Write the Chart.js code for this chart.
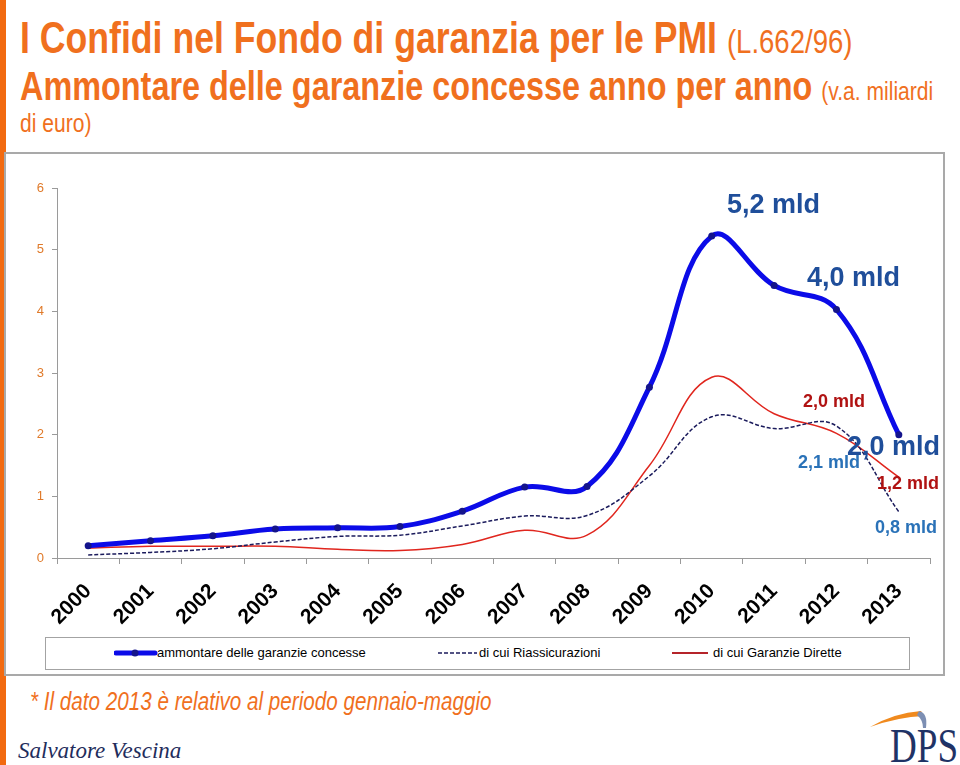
<!DOCTYPE html>
<html>
<head>
<meta charset="utf-8">
<script src="https://cdn.jsdelivr.net/npm/chart.js@4.4.1/dist/chart.umd.min.js"></script>
<style>
  body { margin: 0; width: 960px; height: 765px; background: #fff; position: relative; overflow: hidden; font-family: 'Liberation Sans', Arial, sans-serif; }
  .bar { position: absolute; left: 0; top: 0; width: 6px; height: 765px; background: #F26A10; }
  .t { position: absolute; white-space: nowrap; line-height: 1; }
  /* no narrow font installed: squeeze Liberation Sans */
  .narrow { font-family: 'Liberation Sans', Arial, sans-serif; transform: scaleX(0.81); transform-origin: 0 0; }
  .orange { color: #F0701E; }
  .box { position: absolute; left: 4px; top: 152px; width: 941px; height: 524px; border: 2px solid #A9A9A9; box-sizing: border-box; }
  #wrap { position: absolute; left: 6px; top: 155px; width: 938px; height: 478px; }
  .legend { position: absolute; left: 45px; top: 637px; width: 865px; height: 33px; border: 1px solid #A3A3A3; box-sizing: border-box; }
  .lg { position: absolute; top: 645px; font-size: 13px; color: #000; line-height: 16px; white-space: nowrap; }
  .ann { position: absolute; white-space: nowrap; line-height: 1; font-weight: bold; font-family: 'Liberation Sans', Arial, sans-serif; }
</style>
</head>
<body>
<div class="bar"></div>

<div class="t narrow orange" style="left:20px; top:16px; font-size:44px; font-weight:bold;">I Confidi nel Fondo di garanzia per le PMI <span style="font-size:34px; font-weight:normal;">(L.662/96)</span></div>
<div class="t narrow orange" style="left:20px; top:66px; font-size:40px; font-weight:bold;">Ammontare delle garanzie concesse anno per anno <span style="font-size:26px; font-weight:normal;">(v.a. miliardi</span></div>
<div class="t narrow orange" style="left:20px; top:110px; font-size:26px;">di euro)</div>

<div class="box"></div>
<div id="wrap"><canvas id="garanzieChart" width="938" height="478"></canvas></div>

<div class="ann" style="left:798px; top:453px; font-size:18px; color:#2A72B8;">2,1 mld</div>
<div class="ann" style="left:727px; top:191px; font-size:27px; color:#1F4E9A;">5,2 mld</div>
<div class="ann" style="left:807px; top:264px; font-size:27px; color:#1F4E9A;">4,0 mld</div>
<div class="ann" style="left:803px; top:392px; font-size:18px; color:#B01212;">2,0 mld</div>
<div class="ann" style="left:847px; top:433px; font-size:27px; color:#1F4E9A;">2,0 mld</div>
<div class="ann" style="left:877px; top:474px; font-size:18px; color:#B01212;">1,2 mld</div>
<div class="ann" style="left:875px; top:518px; font-size:18px; color:#2A72B8;">0,8 mld</div>

<div class="legend"></div>
<svg style="position:absolute; left:114px; top:645px;" width="44" height="16">
  <line x1="2" y1="8" x2="41" y2="8" stroke="#0B0BE8" stroke-width="5" stroke-linecap="round"/>
  <circle cx="21" cy="8" r="3.5" fill="#14148C"/>
</svg>
<div class="lg" style="left:157px;">ammontare delle garanzie concesse</div>
<svg style="position:absolute; left:437px; top:645px;" width="42" height="16">
  <line x1="1" y1="8" x2="40" y2="8" stroke="#1B1B5C" stroke-width="1.5" stroke-dasharray="4,2"/>
</svg>
<div class="lg" style="left:479px;">di cui Riassicurazioni</div>
<svg style="position:absolute; left:671px; top:645px;" width="40" height="16">
  <line x1="1" y1="8" x2="37" y2="8" stroke="#B5242A" stroke-width="2"/>
</svg>
<div class="lg" style="left:713px;">di cui Garanzie Dirette</div>

<div class="t narrow orange" style="left:30px; top:689px; font-size:25.5px; font-style:italic;">* Il dato 2013 è relativo al periodo gennaio-maggio</div>
<div class="t" style="left:18px; top:739px; font-size:23px; font-style:italic; font-family:'Liberation Serif', serif; color:#1F2D5C;">Salvatore Vescina</div>

<svg style="position:absolute; left:870px; top:700px;" width="90" height="65">
  <path d="M0 27 Q 24 13 51 11 L 54 16 Q 28 17 0 27 Z" fill="#F08A1E"/>
  <path d="M49 11 Q 58 13 56 28 L 53 28 Q 53 20 47 15 Z" fill="#7D8FB3"/>
  <text x="20" y="62" font-family="Liberation Serif, serif" font-size="48" fill="#1F3366" textLength="68" lengthAdjust="spacingAndGlyphs">DPS</text>
</svg>

<script>
// dati (miliardi di euro)
const anni = ['2000', '2001', '2002', '2003', '2004', '2005', '2006', '2007', '2008', '2009', '2010', '2011', '2012', '2013'];
const garanzieConcesse = [0.20, 0.28, 0.36, 0.47, 0.49, 0.51, 0.76, 1.15, 1.16, 2.77, 5.22, 4.42, 4.03, 2.00];
const riassicurazioni = [0.05, 0.09, 0.15, 0.26, 0.35, 0.37, 0.52, 0.68, 0.69, 1.33, 2.29, 2.10, 2.14, 0.75];
const garanzieDirette = [0.16, 0.19, 0.19, 0.19, 0.14, 0.12, 0.22, 0.45, 0.37, 1.50, 2.93, 2.34, 2.02, 1.31];
const yTicks = [0, 1, 2, 3, 4, 5, 6];

document.addEventListener('DOMContentLoaded', function() {
    initializeChart();
});

function initializeChart() {
    const ctx = document.getElementById('garanzieChart').getContext('2d');
    new Chart(ctx, {
        type: 'line',
        data: {
            labels: anni,
            datasets: [{
                label: 'ammontare delle garanzie concesse',
                data: garanzieConcesse,
                borderColor: '#0B0BE8',
                borderWidth: 5,
                pointRadius: 3.5,
                pointBackgroundColor: '#14148C',
                pointBorderWidth: 0,
                tension: 0.4,
                order: 1
            }, {
                label: 'di cui Riassicurazioni',
                data: riassicurazioni,
                borderColor: '#1B1B5C',
                borderWidth: 1.5,
                borderDash: [4, 2],
                pointRadius: 0,
                tension: 0.4,
                order: 2
            }, {
                label: 'di cui Garanzie Dirette',
                data: garanzieDirette,
                borderColor: '#E0261E',
                borderWidth: 1.5,
                pointRadius: 0,
                tension: 0.4,
                order: 3
            }]
        },
        options: {
            responsive: false,
            animation: false,
            devicePixelRatio: 1,
            layout: {
                padding: { left: 0, right: 14, top: 33, bottom: 0 }
            },
            plugins: {
                legend: { display: false },
                tooltip: { enabled: false }
            },
            scales: {
                x: {
                    offset: true,
                    afterFit: function(scale) {
                        scale.height = 75;
                        scale.paddingLeft = 0;
                        scale.paddingRight = 0;
                    },
                    border: { display: true, color: '#9A9A9A', width: 1 },
                    grid: {
                        offset: true,
                        drawOnChartArea: false,
                        drawTicks: true,
                        tickLength: 6,
                        color: '#9A9A9A'
                    },
                    ticks: {
                        autoSkip: false,
                        minRotation: 45,
                        maxRotation: 45,
                        padding: 15,
                        color: '#000',
                        font: { family: "'Liberation Sans', Arial, sans-serif", size: 21, weight: 'bold' }
                    }
                },
                y: {
                    min: 0,
                    max: 6,
                    afterFit: function(scale) {
                        scale.width = 51;
                    },
                    afterBuildTicks: function(scale) {
                        scale.ticks = yTicks.map(v => ({ value: v }));
                    },
                    border: { display: true, color: '#9A9A9A', width: 1 },
                    grid: {
                        drawOnChartArea: false,
                        drawTicks: true,
                        tickLength: 5,
                        color: '#9A9A9A'
                    },
                    ticks: {
                        padding: 8,
                        color: '#E07A2A',
                        font: { family: "'Liberation Sans', Arial, sans-serif", size: 13 }
                    }
                }
            }
        }
    });
}
</script>
</body>
</html>
